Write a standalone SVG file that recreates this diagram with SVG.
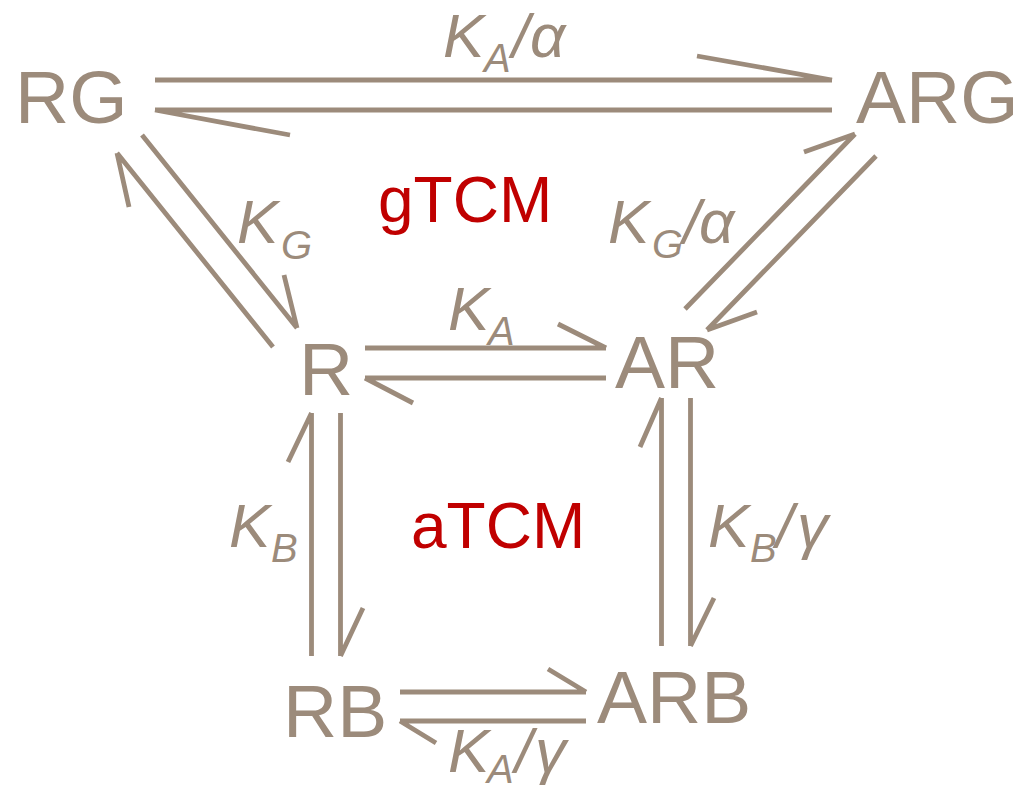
<svg xmlns="http://www.w3.org/2000/svg" width="1018" height="791" viewBox="0 0 1018 791">
  <style>
    .node { font-family: "Liberation Sans", Arial, sans-serif; font-size: 75px; fill: #9c8b7b; }
    .region { font-family: "Liberation Sans", Arial, sans-serif; font-size: 64px; fill: #c00000; }
    .lbl { font-family: "Liberation Sans", Arial, sans-serif; font-size: 62px; font-style: italic; fill: #9c8b7b; }
    .sub { font-size: 40px; }
    .arrow { fill: none; stroke: #9c8b7b; stroke-width: 4.8; stroke-linecap: butt; }
  </style>
  <rect width="1018" height="791" fill="#ffffff"/>

  <g id="connectors">
    <path class="arrow" d="M155,80 L832,80 M832,80 L697,56"/>
    <path class="arrow" d="M832,110 L155,110 M155,110 L290,135"/>
    <path class="arrow" d="M273,347 L117,153 M117,153 L129,207"/>
    <path class="arrow" d="M142,135 L297,328 M297,328 L284,275"/>
    <path class="arrow" d="M685,309 L855,134 M855,134 L804,152"/>
    <path class="arrow" d="M876,156 L707,330 M707,330 L757,312"/>
    <path class="arrow" d="M365,348 L606,348 M606,348 L558,324"/>
    <path class="arrow" d="M606,378 L365,378 M365,378 L413,403"/>
    <path class="arrow" d="M311.5,656 L311.5,413 M311.5,413 L288,462"/>
    <path class="arrow" d="M340.5,413 L340.5,656 M340.5,656 L363,608"/>
    <path class="arrow" d="M661.5,646 L661.5,398 M661.5,398 L640,447"/>
    <path class="arrow" d="M690.5,398 L690.5,646 M690.5,646 L714,598"/>
    <path class="arrow" d="M400,692 L586,692 M586,692 L548,669"/>
    <path class="arrow" d="M586,721 L400,721 M400,721 L436,743"/>
  </g>

  <g id="labels">
    <text class="lbl"><tspan x="443" y="57">K</tspan><tspan class="sub" x="484" y="72">A</tspan><tspan x="512" y="57">/</tspan><tspan x="530" y="57">α</tspan></text>
    <text class="lbl"><tspan x="237" y="243">K</tspan><tspan class="sub" x="281" y="259">G</tspan></text>
    <text class="lbl"><tspan x="608" y="243">K</tspan><tspan class="sub" x="652" y="258">G</tspan><tspan x="683" y="243">/</tspan><tspan x="699" y="243">α</tspan></text>
    <text class="lbl"><tspan x="448" y="330">K</tspan><tspan class="sub" x="488" y="345">A</tspan></text>
    <text class="lbl"><tspan x="229" y="547">K</tspan><tspan class="sub" x="271" y="562">B</tspan></text>
    <text class="lbl"><tspan x="708" y="547">K</tspan><tspan class="sub" x="750" y="562">B</tspan><tspan x="776" y="547">/</tspan><tspan x="797" y="547">γ</tspan></text>
    <text class="lbl"><tspan x="448" y="772">K</tspan><tspan class="sub" x="487" y="783">A</tspan><tspan x="515" y="772">/</tspan><tspan x="535" y="772">γ</tspan></text>
  </g>

  <g id="region-gTCM"><text class="region" x="378" y="222">gTCM</text></g>
  <g id="region-aTCM"><text class="region" x="411" y="548">aTCM</text></g>

  <g id="node-RG"><text class="node" x="15" y="123">RG</text></g>
  <g id="node-ARG"><text class="node" x="856" y="123">ARG</text></g>
  <g id="node-R"><text class="node" x="299" y="395">R</text></g>
  <g id="node-AR"><text class="node" x="615" y="388">AR</text></g>
  <g id="node-RB"><text class="node" x="283" y="737">RB</text></g>
  <g id="node-ARB"><text class="node" x="597" y="723">ARB</text></g>
</svg>
